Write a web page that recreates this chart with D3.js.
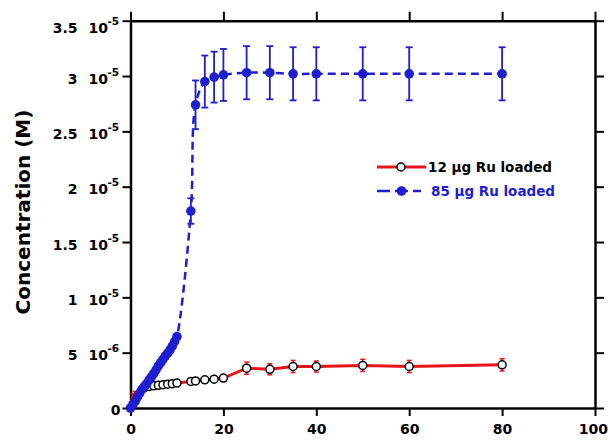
<!DOCTYPE html>
<html>
<head>
<meta charset="utf-8">
<script src="https://cdn.jsdelivr.net/npm/d3@7"></script>
<style>
  body { margin: 0; background: #fff; }
  text { font-family: "DejaVu Sans", sans-serif; font-weight: bold; }
</style>
</head>
<body>
<div id="chart"></div>
<script>
// 12 ug Ru loaded (red, open circles)
var redTime = [0, 0.5, 1, 2, 3, 4, 5, 6, 7, 8, 9, 10, 13, 14, 16, 18, 20, 25, 30, 35, 40, 50, 60, 80];
var redConc = [0, 1.0e-6, 1.3e-6, 1.6e-6, 1.85e-6, 1.95e-6, 2.0e-6, 2.05e-6, 2.1e-6, 2.15e-6, 2.2e-6, 2.25e-6,
               2.4e-6, 2.45e-6, 2.55e-6, 2.6e-6, 2.7e-6, 3.6e-6, 3.5e-6, 3.75e-6, 3.75e-6, 3.85e-6, 3.75e-6, 3.9e-6];
var redErr  = [0, 0.3e-6, 0.2e-6, 0.15e-6, 0.15e-6, 0.15e-6, 0.15e-6, 0.15e-6, 0.15e-6, 0.15e-6, 0.15e-6, 0.15e-6,
               0.2e-6, 0.2e-6, 0.2e-6, 0.2e-6, 0.3e-6, 0.55e-6, 0.5e-6, 0.55e-6, 0.5e-6, 0.55e-6, 0.55e-6, 0.55e-6];

// 85 ug Ru loaded (blue, filled circles)
var blueTime = [0, 0.5, 1, 1.5, 2, 2.5, 3, 3.5, 4, 4.5, 5, 5.5, 6, 6.5, 7, 7.5, 8, 8.5, 9, 9.5, 10,
                13, 14, 16, 18, 20, 25, 30, 35, 40, 50, 60, 80];
var blueConc = [0, 0.3e-6, 0.6e-6, 1.0e-6, 1.35e-6, 1.7e-6, 1.95e-6, 2.2e-6, 2.55e-6, 2.8e-6, 3.1e-6,
                3.45e-6, 3.8e-6, 4.1e-6, 4.4e-6, 4.7e-6, 4.95e-6, 5.25e-6, 5.6e-6, 6.0e-6, 6.45e-6,
                17.8e-6, 27.4e-6, 29.5e-6, 29.9e-6, 30.1e-6, 30.3e-6, 30.3e-6, 30.2e-6, 30.2e-6, 30.2e-6, 30.2e-6, 30.2e-6];
var blueErr  = [0, 0.1e-6, 0.1e-6, 0.1e-6, 0.1e-6, 0.1e-6, 0.1e-6, 0.1e-6, 0.1e-6, 0.1e-6, 0.1e-6,
                0.1e-6, 0.1e-6, 0.1e-6, 0.1e-6, 0.1e-6, 0.1e-6, 0.1e-6, 0.1e-6, 0.1e-6, 0.2e-6,
                1.15e-6, 2.2e-6, 2.35e-6, 2.3e-6, 2.35e-6, 2.4e-6, 2.4e-6, 2.4e-6, 2.4e-6, 2.4e-6, 2.4e-6, 2.4e-6];

var xTicks = [0, 20, 40, 60, 80, 100];
var yTicks = [0, 5e-6, 1e-5, 1.5e-5, 2e-5, 2.5e-5, 3e-5, 3.5e-5];
var yTickNums = ["0", "5", "1", "1.5", "2", "2.5", "3", "3.5"];
var yTickExps = ["", "-6", "-5", "-5", "-5", "-5", "-5", "-5"];

var legendLabels = ["12 \u00b5g Ru loaded", "85 \u00b5g Ru loaded"];

var red = "#e4161a", blue = "#1e1ecf";

var margin = {top: 20.7, right: 13, bottom: 33, left: 130.5};
var width = 608 - margin.left - margin.right;
var height = 441 - margin.top - margin.bottom;

var svg = d3.select("#chart")
  .append("svg")
  .attr("width", 608)
  .attr("height", 441)
  .append("g")
  .attr("transform", "translate(" + margin.left + "," + margin.top + ")");

var x = d3.scaleLinear().domain([0, 100]).range([0, width]);
var y = d3.scaleLinear().domain([0, 3.5e-5]).range([height, 0]);

// axes (box with outward ticks on all sides)
var gx = svg.append("g")
  .attr("transform", "translate(0," + height + ")")
  .call(d3.axisBottom(x).tickValues(xTicks).tickSize(8).tickSizeOuter(0).tickPadding(8));
gx.selectAll("text").style("font-size", "14px").attr("fill", "#000");
// last label sits against the right edge, keep it inside
gx.selectAll(".tick text").filter(function(d) { return d === 100; }).attr("text-anchor", "end").attr("x", 12.5);

svg.append("g")
  .call(d3.axisTop(x).tickValues(xTicks).tickSize(9).tickSizeOuter(0).tickFormat(""));

svg.append("g")
  .attr("transform", "translate(" + width + ",0)")
  .call(d3.axisRight(y).tickValues(yTicks).tickSize(9).tickSizeOuter(0).tickFormat(""));

var gy = svg.append("g")
  .call(d3.axisLeft(y).tickValues(yTicks).tickSize(8).tickSizeOuter(0).tickFormat(""));

gy.selectAll(".tick").each(function(d, i) {
  var t = d3.select(this);
  if (i === 0) {
    t.append("text").attr("x", -10).attr("y", 6).attr("text-anchor", "end")
      .style("font-size", "14px").attr("fill", "#000").text(yTickNums[i]);
    return;
  }
  // top label is pushed down a little in the original
  var dy = (i === yTicks.length - 1) ? 5 : 0;
  t.append("text").attr("x", -53).attr("y", 7 + dy).attr("text-anchor", "end")
    .style("font-size", "14px").attr("fill", "#000").text(yTickNums[i]);
  t.append("text").attr("x", -42).attr("y", 7 + dy).attr("text-anchor", "start")
    .style("font-size", "14px").attr("fill", "#000").text("10");
  t.append("text").attr("x", -23).attr("y", -1 + dy).attr("text-anchor", "start")
    .style("font-size", "10.5px").attr("fill", "#000").text(yTickExps[i]);
});

svg.selectAll(".domain").attr("stroke", "#000").attr("stroke-width", 2.5);
svg.selectAll(".tick line").attr("stroke", "#000").attr("stroke-width", 2);

svg.append("text")
  .attr("transform", "rotate(-90)")
  .attr("x", -(212 - margin.top))
  .attr("y", 30 - margin.left)
  .attr("text-anchor", "middle")
  .style("font-size", "20px")
  .attr("fill", "#000")
  .text("Concentration (M)");

var redData = redTime.map(function(t, i) { return {t: t, c: redConc[i], e: redErr[i]}; });
var blueData = blueTime.map(function(t, i) { return {t: t, c: blueConc[i], e: blueErr[i]}; });

// red series
svg.append("path")
  .datum(redData)
  .attr("fill", "none")
  .attr("stroke", red)
  .attr("stroke-width", 3)
  .attr("d", d3.line().x(function(d) { return x(d.t); }).y(function(d) { return y(d.c); }));

function errorBars(data, color, cap, sw) {
  var g = svg.append("g").attr("stroke", color).attr("stroke-width", sw);
  g.selectAll(".v").data(data).enter().append("line")
    .attr("x1", function(d) { return x(d.t); }).attr("x2", function(d) { return x(d.t); })
    .attr("y1", function(d) { return y(d.c - d.e); }).attr("y2", function(d) { return y(d.c + d.e); });
  g.selectAll(".top").data(data).enter().append("line")
    .attr("x1", function(d) { return x(d.t) - cap; }).attr("x2", function(d) { return x(d.t) + cap; })
    .attr("y1", function(d) { return y(d.c + d.e); }).attr("y2", function(d) { return y(d.c + d.e); });
  g.selectAll(".bot").data(data).enter().append("line")
    .attr("x1", function(d) { return x(d.t) - cap; }).attr("x2", function(d) { return x(d.t) + cap; })
    .attr("y1", function(d) { return y(d.c - d.e); }).attr("y2", function(d) { return y(d.c - d.e); });
}

errorBars(redData.filter(function(d) { return d.e > 0; }), red, 2.5, 1.5);

svg.selectAll(".redpt")
  .data(redData.filter(function(d) { return d.t >= 3; }))
  .enter()
  .append("circle")
  .attr("cx", function(d) { return x(d.t); })
  .attr("cy", function(d) { return y(d.c); })
  .attr("r", 4)
  .attr("fill", "#fff")
  .attr("stroke", "#000")
  .attr("stroke-width", 1.5);

// blue series
svg.append("path")
  .datum(blueData)
  .attr("fill", "none")
  .attr("stroke", blue)
  .attr("stroke-width", 2.5)
  .attr("stroke-dasharray", "8,5")
  .attr("d", d3.line().curve(d3.curveCatmullRom.alpha(0.5))
    .x(function(d) { return x(d.t); }).y(function(d) { return y(d.c); }));

errorBars(blueData.filter(function(d) { return d.e > 0.5e-6; }), blue, 3.5, 1.8);

svg.selectAll(".bluept")
  .data(blueData)
  .enter()
  .append("circle")
  .attr("cx", function(d) { return x(d.t); })
  .attr("cy", function(d) { return y(d.c); })
  .attr("r", 4.8)
  .attr("fill", blue);

// legend
var lg = svg.append("g").attr("transform", "translate(" + (377 - margin.left) + "," + (167 - margin.top) + ")");
lg.append("line").attr("x1", 0).attr("x2", 49).attr("y1", 0).attr("y2", 0)
  .attr("stroke", red).attr("stroke-width", 3);
lg.append("circle").attr("cx", 24).attr("cy", 0).attr("r", 4)
  .attr("fill", "#fff").attr("stroke", "#000").attr("stroke-width", 1.5);
lg.append("text").attr("x", 51).attr("y", 5).style("font-size", "13.5px").attr("fill", "#000").text(legendLabels[0]);

lg.append("line").attr("x1", 0).attr("x2", 44).attr("y1", 24).attr("y2", 24)
  .attr("stroke", blue).attr("stroke-width", 2.5).attr("stroke-dasharray", "13,5");
lg.append("circle").attr("cx", 24.5).attr("cy", 24).attr("r", 4.8).attr("fill", blue);
lg.append("text").attr("x", 54).attr("y", 29).style("font-size", "13.5px").attr("fill", blue).text(legendLabels[1]);
</script>
</body>
</html>
